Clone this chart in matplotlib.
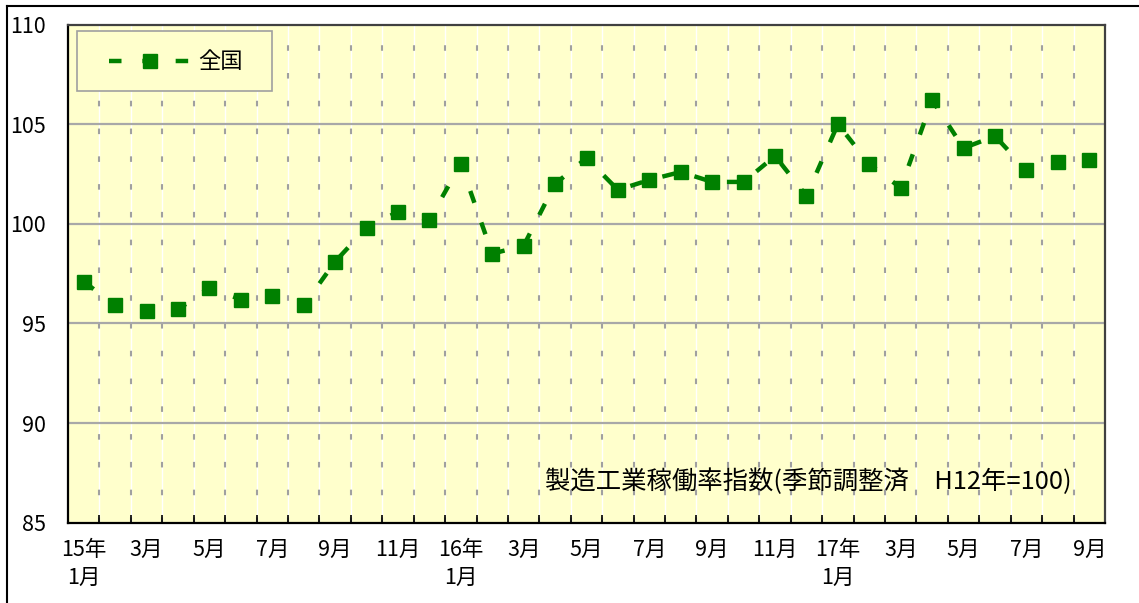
import numpy as np
import matplotlib
matplotlib.use('Agg')
import matplotlib.pyplot as plt
from matplotlib.lines import Line2D
from matplotlib.patches import Rectangle

plt.rcParams['font.family'] = ['Noto Sans CJK JP', 'DejaVu Sans']
plt.rcParams['lines.scale_dashes'] = False

# --- data: 製造工業稼働率指数 (H15.1 - H17.9) ---
months = ['15年\n1月', '2月', '3月', '4月', '5月', '6月', '7月', '8月', '9月', '10月', '11月', '12月',
          '16年\n1月', '2月', '3月', '4月', '5月', '6月', '7月', '8月', '9月', '10月', '11月', '12月',
          '17年\n1月', '2月', '3月', '4月', '5月', '6月', '7月', '8月', '9月']
zenkoku = [97.1, 95.9, 95.6, 95.7, 96.8, 96.2, 96.4, 95.9, 98.1, 99.8, 100.6, 100.2,
           103.0, 98.5, 98.9, 102.0, 103.3, 101.7, 102.2, 102.6, 102.1, 102.1, 103.4, 101.4,
           105.0, 103.0, 101.8, 106.2, 103.8, 104.4, 102.7, 103.1, 103.2]
yticks = [85, 90, 95, 100, 105, 110]
series_name = '全国'
note = '製造工業稼働率指数(季節調整済　H12年=100)'

green = '#008000'
bg = '#FFFFCC'
line_style = dict(color=green, lw=3.2, dashes=(9, 15), marker='s', markersize=10.5,
                  markerfacecolor=green, markeredgecolor=green)

fig = plt.figure(figsize=(11.39, 6.03), dpi=100)
ax = fig.add_axes([68 / 1139, 1 - 522.7 / 603, 1037 / 1139, 498.2 / 603])
ax.set_facecolor(bg)

x = np.arange(len(zenkoku))
ax.set_xlim(-0.5, len(zenkoku) - 0.5)
ax.set_ylim(85, 110)

# grid
for b in np.arange(0.5, len(zenkoku) - 0.5, 1.0):
    ax.axvline(b, color='white', lw=1.0, zorder=1)
    ax.axvline(b, color='#A0A0A0', lw=1.5, dashes=(4, 16), zorder=1.5)
for yv in yticks[1:-1]:
    ax.axhline(yv, color='#A8A8A8', lw=1.6, zorder=1.6)

ax.plot(x, zenkoku, zorder=3, **line_style)

# ticks
labels = [m if i % 2 == 0 else '' for i, m in enumerate(months)]
ax.set_xticks(x)
ax.set_xticklabels(labels, fontsize=15.5, linespacing=1.32, va='top')
ax.set_xticks(np.arange(0.5, len(zenkoku) - 0.5, 1.0), minor=True)
ax.tick_params(axis='x', which='major', length=0, pad=12)
ax.tick_params(axis='x', which='minor', direction='in', length=6, width=1.2, color='black')
ax.set_yticks(yticks)
ax.tick_params(axis='y', direction='in', length=6, width=1.2, labelsize=15.5, pad=16)

for side in ['left', 'bottom']:
    ax.spines[side].set_color('black')
    ax.spines[side].set_linewidth(1.6)
for side in ['top', 'right']:
    ax.spines[side].set_color('#404040')
    ax.spines[side].set_linewidth(1.6)

# legend box (drawn by hand to get the wide side padding)
ax.add_patch(Rectangle((0.0087, 0.8665), 0.188, 0.1205, transform=ax.transAxes,
                       facecolor=bg, edgecolor='#A0A0A0', lw=1.2, zorder=4))
ax.plot([0.0395, 0.0786, 0.1177], [0.9267] * 3, transform=ax.transAxes, markevery=[1],
        zorder=5, **line_style)
ax.text(0.1254, 0.9267, series_name, transform=ax.transAxes, ha='left', va='center',
        fontsize=16, zorder=5)

ax.text(0.968, 0.083, note, transform=ax.transAxes, ha='right', va='center', fontsize=18.3)

# outer frame (top and left edges)
fig.add_artist(Line2D([7 / 1139, 7 / 1139], [0, 1 - 6 / 603], color='black', lw=1.5))
fig.add_artist(Line2D([7 / 1139, 1], [1 - 6 / 603, 1 - 6 / 603], color='black', lw=1.5))

fig.savefig('out.png', dpi=100)
